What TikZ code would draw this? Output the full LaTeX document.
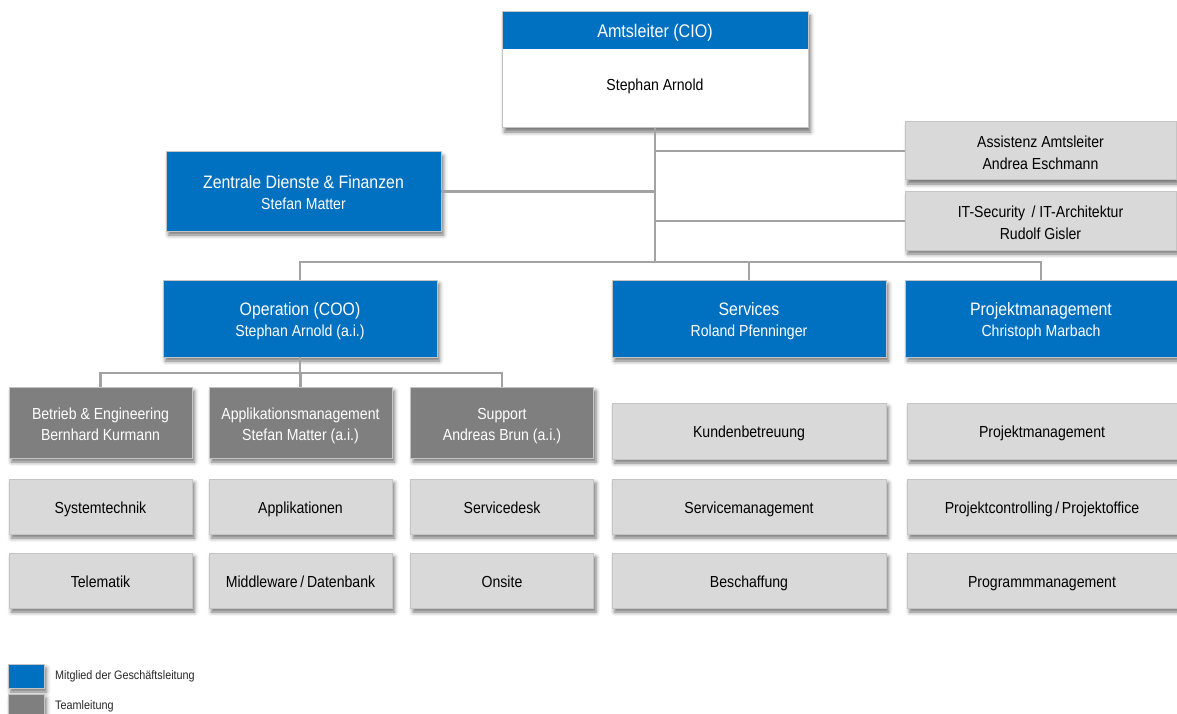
\documentclass[tikz,border=0pt]{standalone}
\usepackage{fontspec}
\setmainfont{Liberation Sans}[FakeStretch=0.88]
\usetikzlibrary{shadows.blur}
\definecolor{ciblue}{HTML}{0070C0}
\definecolor{tldark}{HTML}{7F7F7F}
\definecolor{oulight}{HTML}{D9D9D9}
\definecolor{bordergray}{HTML}{C4C4C4}
\definecolor{linegray}{HTML}{A3A3A3}
\newcommand{\hd}[1]{{\fontsize{18}{21.5}\selectfont #1}}
\newcommand{\two}[2]{\rule{0pt}{19.5pt}#1\\#2\rule[-4.5pt]{0pt}{4.5pt}}
\begin{document}
\begin{tikzpicture}[x=1pt,y=-1pt,
  base/.style={inner sep=0pt, outer sep=0pt, align=center, draw=bordergray, line width=1pt,
    font=\fontsize{16}{21.5}\selectfont,
    blur shadow={shadow xshift=2.5pt, shadow yshift=-4pt, shadow blur radius=4pt, shadow opacity=55}},
  gl/.style={base, fill=ciblue, text=white},
  tl/.style={base, fill=tldark, text=white},
  ou/.style={base, fill=oulight, text=black},
  one/.style={text height=13pt, text depth=0pt},
  wide/.style={minimum width=274pt},
  col/.style={minimum width=183pt},
  pmw/.style={minimum width=270pt},
  conn/.style={draw=linegray, line width=2.5pt},
  plain/.style={inner sep=0pt, align=center, font=\fontsize{16}{21.5}\selectfont},
  legtext/.style={inner sep=0pt, anchor=west, font=\fontsize{12.3}{14}\selectfont, text=black!85}
]
\useasboundingbox (0,0) rectangle (1177,714);

% top box
\node[base, fill=white, minimum width=306pt, minimum height=116pt] (cio) at (655,70) {};
\node[inner sep=0pt, outer sep=0pt, fill=ciblue, text=white, minimum width=305pt, minimum height=37pt,
  text height=14pt, text depth=0pt, font=\fontsize{18.3}{22}\selectfont] (cioh) at (655,30.5) {Amtsleiter (CIO)};
\node[plain, one] (cion) at (655,84) {Stephan Arnold};

% staff
\node[ou, minimum width=271pt, minimum height=58pt] (ass) at (1040.5,151) {\two{Assistenz Amtsleiter}{Andrea Eschmann}};
\node[ou, minimum width=271pt, minimum height=58pt] (sec) at (1040.5,221) {\two{IT-Security \,/ IT-Architektur}{Rudolf Gisler}};
\node[gl, minimum width=275pt, minimum height=79pt] (zen) at (303.5,191.5) {\two{\hd{Zentrale Dienste \& Finanzen}}{Stefan Matter}};

% divisions
\node[gl, wide, minimum height=77pt] (op) at (300,318.5) {\two{\hd{Operation (COO)}}{Stephan Arnold (a.i.)}};
\node[gl, wide, minimum height=77pt] (sv) at (749,318.5) {\two{\hd{Services}}{Roland Pfenninger}};
\node[gl, minimum width=272pt, minimum height=77pt] (pm) at (1041,318.5) {\two{\hd{Projektmanagement}}{Christoph Marbach}};

% team leads
\node[tl, col, minimum height=71pt] (be) at (100.5,422.5) {\two{Betrieb \& Engineering}{Bernhard Kurmann}};
\node[tl, col, minimum height=71pt] (am) at (300.5,422.5) {\two{Applikationsmanagement}{Stefan Matter (a.i.)}};
\node[tl, col, minimum height=71pt] (su) at (502,422.5) {\two{Support}{Andreas Brun (a.i.)}};

% units
\node[ou, one, wide, minimum height=56pt] (kb) at (749,431) {Kundenbetreuung};
\node[ou, one, pmw, minimum height=56pt] (pj) at (1042,431) {Projektmanagement};

\node[ou, one, col, minimum height=55pt] (st) at (100.5,506.5) {Systemtechnik};
\node[ou, one, col, minimum height=55pt] (ap) at (300.5,506.5) {Applikationen};
\node[ou, one, col, minimum height=55pt] (sd) at (502,506.5) {Servicedesk};
\node[ou, one, wide, minimum height=55pt] (sm) at (749,506.5) {Servicemanagement};
\node[ou, one, pmw, minimum height=55pt] (pc) at (1042,506.5) {Projektcontrolling\,/\,Projektoffice};

\node[ou, one, col, minimum height=55pt] (te) at (100.5,580.5) {Telematik};
\node[ou, one, col, minimum height=55pt] (mw) at (300.5,580.5) {Middleware\,/\,Datenbank};
\node[ou, one, col, minimum height=55pt] (on) at (502,580.5) {Onsite};
\node[ou, one, wide, minimum height=55pt] (bs) at (749,580.5) {Beschaffung};
\node[ou, one, pmw, minimum height=55pt] (pg) at (1042,580.5) {Programmmanagement};

% connectors
\coordinate (j) at (655,262);
\coordinate (k) at (300,373);
\draw[conn] (cio.south) -- (j);
\draw[conn] (cio.south |- ass.west) -- (ass.west);
\draw[conn] (cio.south |- sec.west) -- (sec.west);
\draw[conn] (zen.east) -- (zen.east -| cio.south);
\draw[conn] (op.north) -- (op.north |- j) -- (pm.north |- j) -- (pm.north);
\draw[conn] (sv.north) -- (sv.north |- j);
\draw[conn] (op.south) -- (k);
\draw[conn] (be.north) -- (be.north |- k) -- (su.north |- k) -- (su.north);
\draw[conn] (am.north) -- (am.north |- k);

% legend
\node[gl, minimum width=36pt, minimum height=24pt] (lg1) at (26,676) {};
\node[legtext] (lt1) at (55,676) {Mitglied der Geschäftsleitung};
\node[tl, minimum width=36pt, minimum height=20pt] (lg2) at (26,704) {};
\node[legtext] (lt2) at (55,706) {Teamleitung};
\end{tikzpicture}
\end{document}
